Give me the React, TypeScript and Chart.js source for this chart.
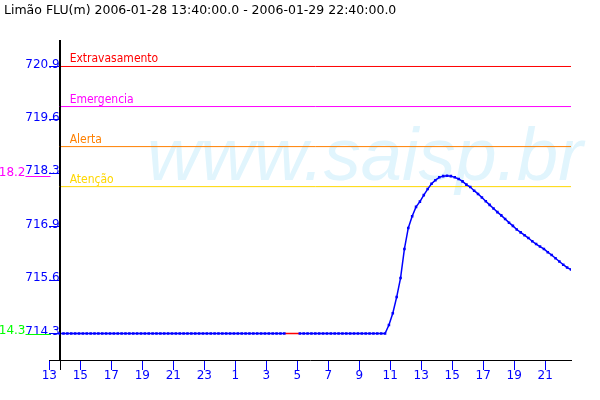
import { useEffect, useRef } from 'react';
import { Chart, registerables } from 'chart.js';

Chart.register(...registerables);

const FONT = '"DejaVu Sans", sans-serif';
const LABEL_FONT = '"DejaVu Sans Condensed", "DejaVu Sans", sans-serif';

const titleText = 'Limão FLU(m) 2006-01-28 13:40:00.0 - 2006-01-29 22:40:00.0';
const watermarkText = 'www.saisp.br';

// time axis, in hours counted from 00:00 of 2006-01-28
const startHour = 13 + 40 / 60; // 13:40
const stepHours = 0.25; // one reading every 15 minutes
const axisStartHour = 13;
const axisEndHour = 46 + 40 / 60; // 22:40 next day
const xTickHours = [13, 15, 17, 19, 21, 23, 25, 27, 29, 31, 33, 35, 37, 39, 41, 43, 45];

// level axis
const yMin = 713.645;
const yMax = 721.555;
const yTickValues = [714.3, 715.62, 716.94, 718.26, 719.58, 720.9];

// alarm thresholds
const thresholdNames = ['Extravasamento', 'Emergencia', 'Alerta', 'Atenção'];
const thresholdValues = [720.9, 719.91, 718.92, 717.93];
const thresholdColors = ['#ff0000', '#ff00ff', '#ff8000', '#ffd700'];

// water level (m), 15-minute readings from 13:40 (null = missing)
const levels: (number | null)[] = [
  714.3, 714.3, 714.3, 714.3, 714.3, 714.3, 714.3, 714.3, 714.3, 714.3, 714.3, 714.3,
  714.3, 714.3, 714.3, 714.3, 714.3, 714.3, 714.3, 714.3, 714.3, 714.3, 714.3, 714.3,
  714.3, 714.3, 714.3, 714.3, 714.3, 714.3, 714.3, 714.3, 714.3, 714.3, 714.3, 714.3,
  714.3, 714.3, 714.3, 714.3, 714.3, 714.3, 714.3, 714.3, 714.3, 714.3, 714.3, 714.3,
  714.3, 714.3, 714.3, 714.3, 714.3, 714.3, 714.3, 714.3, 714.3, 714.3, 714.3, null,
  null, null, 714.3, 714.3, 714.3, 714.3, 714.3, 714.3, 714.3, 714.3, 714.3, 714.3,
  714.3, 714.3, 714.3, 714.3, 714.3, 714.3, 714.3, 714.3, 714.3, 714.3, 714.3, 714.3,
  714.30, 714.51, 714.80, 715.20, 715.67, 716.39, 716.91, 717.20, 717.43, 717.56,
  717.72, 717.87, 718.00, 718.09, 718.16, 718.19, 718.20, 718.19, 718.16, 718.12,
  718.06, 717.98, 717.92, 717.83, 717.75, 717.66, 717.57, 717.48, 717.39, 717.30,
  717.22, 717.13, 717.04, 716.96, 716.87, 716.80, 716.73, 716.66, 716.58, 716.51,
  716.45, 716.39, 716.31, 716.24, 716.16, 716.08, 716.00, 715.93, 715.88,
];

const overlayPlugin = {
  id: 'overlay',
  beforeDatasetsDraw(chart: any) {
    const { ctx } = chart;
    ctx.save();
    ctx.font = `italic 74px "Liberation Sans", sans-serif`;
    ctx.fillStyle = '#e1f5fd';
    ctx.textAlign = 'left';
    ctx.textBaseline = 'alphabetic';
    ctx.fillText(watermarkText, 147, 180);
    ctx.restore();
  },
  afterDatasetsDraw(chart: any) {
    const { ctx, scales } = chart;
    const xs = scales.x;
    const ys = scales.y;
    const x0 = xs.getPixelForValue(startHour);
    ctx.save();
    ctx.font = `12px ${LABEL_FONT}`;
    ctx.textAlign = 'left';
    ctx.textBaseline = 'alphabetic';
    thresholdValues.forEach((v, i) => {
      const py = Math.round(ys.getPixelForValue(v));
      ctx.fillStyle = thresholdColors[i];
      ctx.fillText(thresholdNames[i], x0 + 10, py - 4);
    });
    ctx.restore();
  },
  afterDraw(chart: any) {
    const { ctx, chartArea, scales } = chart;
    const xs = scales.x;
    const ys = scales.y;
    const ax = Math.round(xs.getPixelForValue(startHour)) + 0.5;
    ctx.save();
    // title
    ctx.font = `12.5px ${FONT}`;
    ctx.fillStyle = '#000000';
    ctx.textAlign = 'left';
    ctx.textBaseline = 'middle';
    ctx.fillText(titleText, 4, 11);
    // y axis extension below x axis
    ctx.strokeStyle = '#000000';
    ctx.lineWidth = 1;
    ctx.beginPath();
    ctx.moveTo(ax, chartArea.top);
    ctx.lineTo(ax, chartArea.bottom + 10);
    ctx.stroke();
    // min / max markers
    const valid = levels.filter((v) => v !== null) as number[];
    const markers = [
      { v: Math.max(...valid), color: '#ff00ff' },
      { v: Math.min(...valid), color: '#00ff00' },
    ];
    ctx.font = `12px ${FONT}`;
    ctx.textAlign = 'right';
    ctx.textBaseline = 'alphabetic';
    markers.forEach((m) => {
      const py = Math.round(ys.getPixelForValue(m.v)) + 0.5;
      ctx.strokeStyle = m.color;
      ctx.beginPath();
      ctx.moveTo(ax - 35, py);
      ctx.lineTo(ax - 10, py);
      ctx.stroke();
      ctx.fillStyle = m.color;
      ctx.fillText(m.v.toFixed(1), ax - 35, py - 1);
    });
    ctx.restore();
  },
};

export default function App() {
  const canvasRef = useRef<HTMLCanvasElement>(null);

  useEffect(() => {
    if (!canvasRef.current) return;
    const points = levels.map((v, i) => ({ x: startHour + i * stepHours, y: v }));
    const thresholdSets = thresholdValues.map((v, i) => ({
      data: [
        { x: startHour, y: v },
        { x: axisEndHour, y: v },
      ],
      borderColor: thresholdColors[i],
      backgroundColor: thresholdColors[i],
      borderWidth: 1,
      pointRadius: 0,
      order: 1,
    }));
    const chart = new Chart(canvasRef.current, {
      type: 'line',
      data: {
        datasets: [
          {
            data: points as any,
            borderColor: '#0000ff',
            backgroundColor: '#0000ff',
            borderWidth: 1.5,
            pointStyle: 'rect',
            pointRadius: 1.8,
            pointBorderWidth: 0,
            pointBackgroundColor: '#0000ff',
            spanGaps: true,
            tension: 0,
            order: 0,
            segment: {
              borderColor: (ctx: any) => (ctx.p0.skip || ctx.p1.skip ? '#ff0000' : undefined),
            },
          } as any,
          ...(thresholdSets as any),
        ],
      },
      options: {
        animation: false,
        responsive: false,
        events: [],
        layout: { padding: { left: 49.3, right: 29, top: 40, bottom: 0 } },
        plugins: {
          legend: { display: false },
          tooltip: { enabled: false },
          title: { display: false },
        },
        scales: {
          x: {
            type: 'linear',
            position: 'bottom',
            min: axisStartHour,
            max: axisEndHour,
            afterBuildTicks: (s: any) => {
              s.ticks = xTickHours.map((v) => ({ value: v }));
            },
            afterFit: (s: any) => {
              s.height = 40;
            },
            grid: { drawOnChartArea: false, color: '#0000ff', tickLength: 10, lineWidth: 1 },
            border: { color: '#000000', width: 1 },
            ticks: {
              color: '#0000ff',
              font: { family: FONT, size: 12 },
              padding: -1,
              autoSkip: false,
              maxRotation: 0,
              callback: (v: any) => String(Number(v) % 24),
            },
          },
          y: {
            type: 'linear',
            position: { x: startHour } as any,
            min: yMin,
            max: yMax,
            afterBuildTicks: (s: any) => {
              s.ticks = yTickValues.map((v) => ({ value: v }));
            },
            grid: { drawOnChartArea: false, color: '#0000ff', tickLength: 10, lineWidth: 1 },
            border: { color: '#000000', width: 1 },
            ticks: {
              color: '#0000ff',
              font: { family: FONT, size: 12 },
              padding: 0,
              labelOffset: -2,
              autoSkip: false,
              callback: (v: any) => Number(v).toFixed(1),
            },
          },
        },
      },
      plugins: [overlayPlugin],
    });
    return () => chart.destroy();
  }, []);

  return (
    <div style={{ position: 'absolute', left: 0, top: 0, width: 600, height: 400, background: '#ffffff' }}>
      <canvas ref={canvasRef} width={600} height={400} style={{ display: 'block' }} />
    </div>
  );
}
